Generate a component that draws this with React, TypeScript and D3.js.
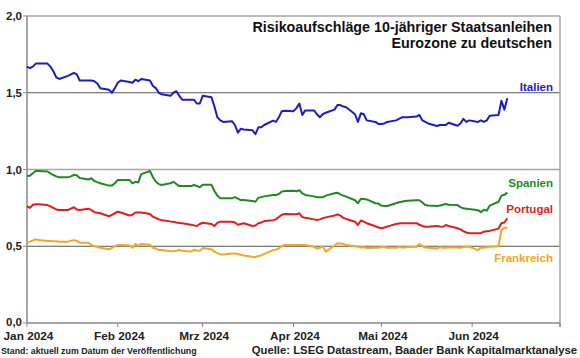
import React from "react";
import * as d3 from "d3";

const START = "2024-01-01";
const COUNT = 119;

const italien = [
  1.67, 1.66, 1.67, 1.69, 1.69,
  1.69, 1.67, 1.64, 1.6, 1.59,
  1.61, 1.62, 1.63, 1.62, 1.58,
  1.58, 1.58, 1.575, 1.56, 1.53,
  1.52, 1.5, 1.53, 1.565, 1.58,
  1.57, 1.565, 1.585, 1.575, 1.59,
  1.58, 1.544, 1.53, 1.5, 1.49,
  1.48, 1.5, 1.51, 1.48, 1.455,
  1.455, 1.455, 1.43, 1.43, 1.48,
  1.47, 1.41, 1.34, 1.32, 1.31,
  1.315, 1.29, 1.24, 1.265, 1.26,
  1.255, 1.23, 1.275, 1.275, 1.29,
  1.318, 1.31, 1.34, 1.38, 1.383,
  1.38, 1.4, 1.43, 1.355, 1.385,
  1.385, 1.36, 1.34, 1.36, 1.37,
  1.39, 1.42, 1.42, 1.41, 1.405,
  1.36, 1.31, 1.366, 1.36, 1.32,
  1.31, 1.296, 1.296, 1.3, 1.31,
  1.32, 1.33, 1.34, 1.34, 1.34,
  1.345, 1.355, 1.32, 1.31, 1.3,
  1.283, 1.29, 1.29, 1.29, 1.305,
  1.285, 1.3, 1.33, 1.31, 1.32,
  1.31, 1.32, 1.31, 1.32, 1.35,
  1.355, 1.448, 1.39, 1.464,
];

const spanien = [
  0.958, 0.96, 0.975, 0.99, 0.99,
  0.987, 0.975, 0.964, 0.955, 0.949,
  0.949, 0.955, 0.965, 0.962, 0.945,
  0.935, 0.943, 0.925, 0.918, 0.91,
  0.895, 0.895, 0.91, 0.932, 0.932,
  0.932, 0.91, 0.92, 0.915, 0.97,
  0.99, 0.95, 0.92, 0.905, 0.899,
  0.91, 0.92, 0.905, 0.892, 0.892,
  0.892, 0.899, 0.893, 0.884, 0.9,
  0.9, 0.86, 0.83, 0.812, 0.812,
  0.812, 0.82, 0.81, 0.801, 0.801,
  0.795, 0.79, 0.815, 0.82, 0.825,
  0.834, 0.834, 0.84, 0.856, 0.86,
  0.862, 0.858, 0.865, 0.845, 0.834,
  0.825, 0.819, 0.819, 0.819, 0.83,
  0.845, 0.849, 0.838, 0.83, 0.823,
  0.8, 0.78, 0.81, 0.808, 0.805,
  0.78, 0.778, 0.765, 0.762, 0.762,
  0.78, 0.787, 0.79, 0.795, 0.797,
  0.799, 0.8, 0.785, 0.768, 0.765,
  0.762, 0.765, 0.77, 0.775, 0.77,
  0.768, 0.755, 0.747, 0.745, 0.742,
  0.735, 0.722, 0.738, 0.732, 0.765,
  0.79, 0.83, 0.835, 0.849,
];

const portugal = [
  0.762, 0.75, 0.77, 0.773, 0.773,
  0.768, 0.76, 0.75, 0.74, 0.736,
  0.736, 0.745, 0.754, 0.74, 0.736,
  0.745, 0.735, 0.722, 0.718, 0.715,
  0.695, 0.705, 0.715, 0.725, 0.72,
  0.7, 0.705, 0.72, 0.72, 0.72,
  0.71, 0.692, 0.685, 0.675, 0.67,
  0.662, 0.66, 0.655, 0.652, 0.65,
  0.64, 0.636, 0.632, 0.645, 0.653,
  0.645, 0.632, 0.652, 0.66, 0.66,
  0.66, 0.655, 0.64, 0.645, 0.65,
  0.632, 0.635, 0.65, 0.655, 0.664,
  0.67, 0.675, 0.69, 0.705, 0.71,
  0.708, 0.708, 0.715, 0.69, 0.685,
  0.675, 0.671, 0.675, 0.682, 0.688,
  0.7, 0.708, 0.7, 0.685, 0.678,
  0.66, 0.638, 0.668, 0.66, 0.65,
  0.63, 0.622, 0.617, 0.622, 0.628,
  0.645, 0.648, 0.65, 0.65, 0.65,
  0.65, 0.64, 0.632, 0.627, 0.627,
  0.632, 0.628, 0.627, 0.638, 0.632,
  0.617, 0.61, 0.598, 0.59, 0.585,
  0.585, 0.585, 0.595, 0.598, 0.6,
  0.615, 0.65, 0.655, 0.682,
];

const frankreich = [
  0.523, 0.53, 0.538, 0.545, 0.54,
  0.534, 0.534, 0.533, 0.532, 0.53,
  0.53, 0.535, 0.54, 0.535, 0.523,
  0.523, 0.508, 0.5, 0.497, 0.49,
  0.48, 0.49, 0.5, 0.508, 0.508,
  0.505, 0.49, 0.515, 0.502, 0.515,
  0.51, 0.49, 0.485, 0.476, 0.476,
  0.468, 0.468, 0.47, 0.476, 0.47,
  0.465, 0.476, 0.472, 0.47, 0.488,
  0.48, 0.465, 0.455, 0.447, 0.447,
  0.453, 0.453, 0.45, 0.445, 0.44,
  0.432, 0.43, 0.437, 0.44, 0.45,
  0.475, 0.478, 0.485, 0.5, 0.508,
  0.508, 0.508, 0.508, 0.508, 0.508,
  0.497, 0.485, 0.49, 0.5, 0.465,
  0.505, 0.52, 0.518, 0.515, 0.508,
  0.5, 0.498, 0.492, 0.495, 0.488,
  0.492, 0.49, 0.495, 0.495, 0.49,
  0.49, 0.495, 0.492, 0.492, 0.495,
  0.497, 0.515, 0.5, 0.492, 0.49,
  0.485, 0.495, 0.49, 0.49, 0.493,
  0.492, 0.49, 0.495, 0.497, 0.497,
  0.475, 0.492, 0.49, 0.495, 0.497,
  0.5, 0.606, 0.621, 0.621,
];

const yTicks = [0, 0.5, 1.0, 1.5, 2.0];
const xTickDates = ["2024-01-01", "2024-02-01", "2024-03-01", "2024-04-01", "2024-05-01", "2024-06-01", "2024-07-01"];
const xTickLabels = ["Jan 2024", "Feb 2024", "Mrz 2024", "Apr 2024", "Mai 2024", "Jun 2024", ""];

const titleLines = ["Risikoaufschläge 10-jähriger Staatsanleihen", "Eurozone zu deutschen"];
const footLeft = "Stand: aktuell zum Datum der Veröffentlichung";
const footRight = "Quelle: LSEG Datastream, Baader Bank Kapitalmarktanalyse";

const seriesDefs = [
  { name: "Italien", values: italien, color: "#1c1cc8", labelY: 91 },
  { name: "Spanien", values: spanien, color: "#1f8a24", labelY: 187 },
  { name: "Portugal", values: portugal, color: "#e01e1e", labelY: 213 },
  { name: "Frankreich", values: frankreich, color: "#f5a623", labelY: 262 },
];

function businessDays(start: string, n: number): Date[] {
  const out: Date[] = [];
  let d = new Date(start + "T00:00:00");
  while (out.length < n) {
    const wd = d.getDay();
    if (wd !== 0 && wd !== 6) out.push(new Date(d));
    d = d3.timeDay.offset(d, 1);
  }
  return out;
}

const FONT = "'Liberation Sans', Arial, sans-serif";

export default function App() {
  const W = 580, H = 358;
  const L = 27, R = 560, T = 16, B = 323;
  const dates = businessDays(START, COUNT);
  const x = d3.scaleTime()
    .domain([new Date("2024-01-01T00:00:00"), new Date("2024-07-01T00:00:00")])
    .range([L, R]);
  const y = d3.scaleLinear().domain([0, 2]).range([B, T]);
  const line = d3.line<number>()
    .x((_, i) => x(dates[i]))
    .y((v) => y(v));

  return (
    <svg width={W} height={H} style={{ position: "absolute", left: 0, top: 0, background: "#fff" }}
      fontFamily={FONT}>
      {yTicks.filter((t) => t > 0).map((t) => (
        <line key={t} x1={L} x2={R} y1={y(t)} y2={y(t)}
          stroke={t === 1 || t === 2 ? "#a6a6a6" : "#555"}
          strokeWidth={t === 1 || t === 2 ? 1.5 : 1} />
      ))}
      <line x1={R} x2={R} y1={T} y2={B + 4} stroke="#a6a6a6" strokeWidth={1.5} />
      <line x1={L} x2={L} y1={T} y2={B} stroke="#888" strokeWidth={1.5} />
      <line x1={L} x2={R} y1={B} y2={B} stroke="#888" strokeWidth={1.5} />
      {yTicks.map((t) => (
        <g key={t}>
          <line x1={L - 4} x2={L} y1={y(t)} y2={y(t)} stroke="#888" strokeWidth={1} />
          <text x={22} y={y(t) - (t === 0 ? 1 : 0)} dy="0.35em" textAnchor="end" fontSize={11.5} fontWeight="bold" fill="#222">
            {d3.format(".1f")(t).replace(".", ",")}
          </text>
        </g>
      ))}
      {xTickDates.map((ds, i) => {
        const xx = x(new Date(ds + "T00:00:00"));
        return (
          <g key={ds}>
            <line x1={xx} x2={xx} y1={B} y2={B + 4} stroke="#888" strokeWidth={1} />
            <text x={xx + 1.5} y={340} textAnchor="middle" fontSize={11.8} fontWeight="bold" fill="#222">
              {xTickLabels[i]}
            </text>
          </g>
        );
      })}
      {seriesDefs.map((s) => (
        <path key={s.name} d={line(s.values) || ""} fill="none" stroke={s.color}
          strokeWidth={2} strokeLinejoin="round" />
      ))}
      {seriesDefs.map((s) => (
        <text key={s.name} x={553} y={s.labelY} textAnchor="end" fontSize={11.5}
          fontWeight="bold" fill={s.color}>{s.name}</text>
      ))}
      {titleLines.map((t, i) => (
        <text key={i} x={552} y={32 + i * 16} textAnchor="end" fontSize={14.3} fontWeight="bold" fill="#111">
          {t}
        </text>
      ))}
      <text x={1} y={354} fontSize={8.8} fontWeight="bold" fill="#222">{footLeft}</text>
      <text x={577} y={354} textAnchor="end" fontSize={11.3} fontWeight="bold" fill="#222">{footRight}</text>
    </svg>
  );
}
